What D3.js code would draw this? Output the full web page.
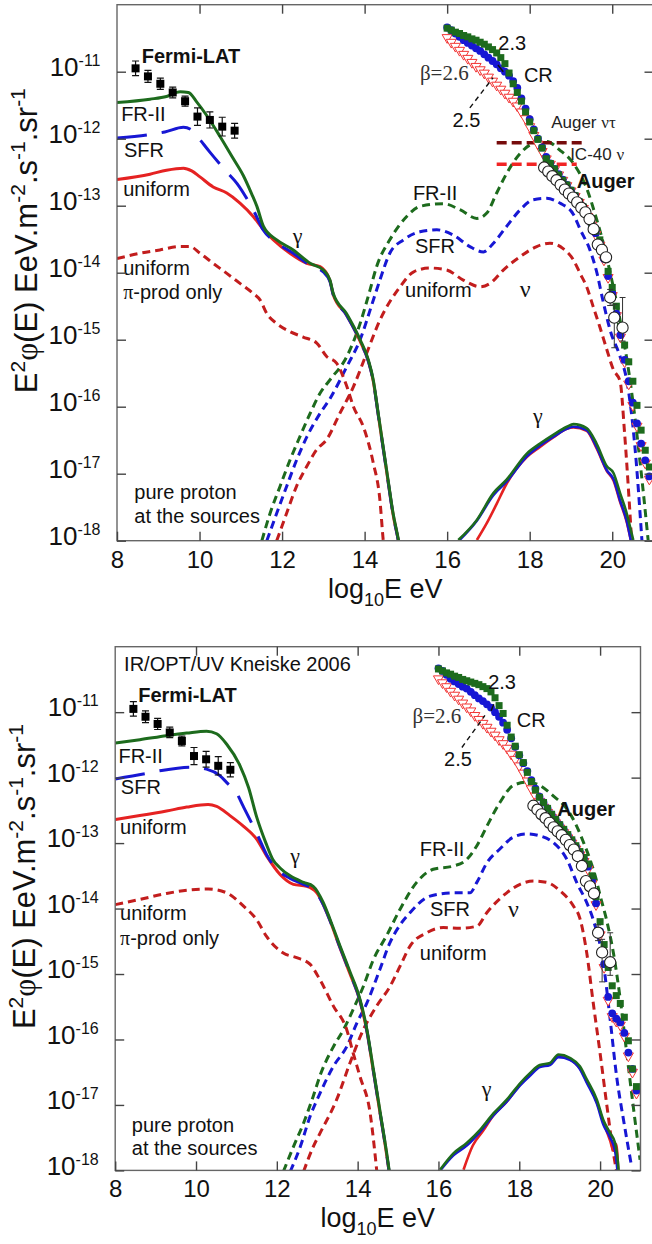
<!DOCTYPE html>
<html>
<head>
<meta charset="utf-8">
<script src="https://cdn.jsdelivr.net/npm/d3@7"></script>
<style>
  body { margin: 0; background: #fff; }
  svg { display: block; }
</style>
</head>
<body>
<div id="chart"></div>
<script>
// x = log10(E/eV), y = log10(E^2 phi) in EeV.m-2.s-1.sr-1

// Fermi-LAT points (same in both panels)
const fermiE = [8.45, 8.75, 9.05, 9.35, 9.65, 9.95, 10.25, 10.55, 10.85];
const fermiF = [-10.95, -11.07, -11.18, -11.31, -11.44, -11.67, -11.72, -11.82, -11.88];
const fermiErr = [0.11, 0.09, 0.085, 0.08, 0.075, 0.13, 0.12, 0.14, 0.11];

// Auger spectrum (open circles)
const augerE = [18.35, 18.45, 18.55, 18.65, 18.75, 18.85, 18.95, 19.05, 19.15, 19.25,
                19.35, 19.45, 19.55, 19.65, 19.75, 19.85, 19.95, 20.05, 20.25];
const augerF = [-12.43, -12.49, -12.56, -12.62, -12.69, -12.76, -12.82, -12.88, -12.95, -13.03,
                -13.10, -13.20, -13.35, -13.58, -13.66, -13.77, -14.37, -14.67, -14.82];
const augerErrLo = [0, 0, 0, 0, 0, 0, 0, 0, 0, 0, 0, 0, 0, 0, 0, 0, 0.12, 0.45, 0.2];
const augerErrHi = [0, 0, 0, 0, 0, 0, 0, 0, 0, 0, 0, 0, 0, 0, 0, 0, 0.12, 0.2, 0.45];

// propagated cosmic-ray spectra for beta = 2.3 / 2.5 / 2.6
const crE = [16.0, 16.1, 16.2, 16.3, 16.4, 16.5, 16.6, 16.7, 16.8, 16.9,
             17.0, 17.1, 17.2, 17.3, 17.4, 17.5, 17.6, 17.7, 17.8, 17.9,
             18.0, 18.1, 18.2, 18.3, 18.4, 18.5, 18.6, 18.7, 18.8, 18.9,
             19.0, 19.1, 19.2, 19.3, 19.4, 19.5, 19.6, 19.7, 19.8, 19.9,
             20.0, 20.1, 20.2, 20.3, 20.4, 20.5, 20.6, 20.7, 20.8, 20.9];
const crTop23 = [-10.35, -10.38, -10.41, -10.43, -10.46, -10.48, -10.51, -10.53, -10.56, -10.59,
                 -10.63, -10.67, -10.72, -10.79, -10.88, -11.02, -11.18, -11.31, -11.44, -11.60,
                 -11.75, -11.88, -12.01, -12.14, -12.30, -12.37, -12.45, -12.54, -12.62, -12.69,
                 -12.77, -12.85, -12.94, -13.02, -13.14, -13.26, -13.38, -13.51, -13.74, -13.98,
                 -14.22, -14.50, -14.80, -15.08, -15.33, -15.62, -15.98, -16.35, -16.65, -16.90];
const crTop25 = [-10.34, -10.38, -10.43, -10.48, -10.53, -10.57, -10.61, -10.65, -10.69, -10.74,
                 -10.79, -10.84, -10.89, -10.95, -11.00, -11.06, -11.14, -11.24, -11.40, -11.55,
                 -11.71, -11.86, -12.00, -12.13, -12.27, -12.37, -12.45, -12.53, -12.61, -12.69,
                 -12.77, -12.85, -12.94, -13.03, -13.15, -13.28, -13.41, -13.56, -13.79, -14.05,
                 -14.31, -14.61, -14.93, -15.30, -15.62, -15.94, -16.25, -16.55, -16.80, -17.04];
const crTop26 = [-10.49, -10.56, -10.62, -10.68, -10.74, -10.80, -10.86, -10.92, -10.97, -11.02,
                 -11.08, -11.14, -11.20, -11.26, -11.32, -11.38, -11.44, -11.51, -11.60, -11.70,
                 -11.82, -11.95, -12.08, -12.19, -12.30, -12.38, -12.46, -12.54, -12.62, -12.70,
                 -12.78, -12.86, -12.95, -13.04, -13.16, -13.29, -13.43, -13.59, -13.81, -14.07,
                 -14.34, -14.64, -14.96, -15.33, -15.66, -15.98, -16.29, -16.58, -16.84, -17.08];
const crBot23 = [-10.34, -10.37, -10.40, -10.42, -10.45, -10.47, -10.50, -10.52, -10.54, -10.56,
                 -10.58, -10.61, -10.64, -10.69, -10.78, -10.90, -11.02, -11.20, -11.38, -11.52,
                 -11.65, -11.77, -11.92, -12.06, -12.19, -12.30, -12.38, -12.47, -12.56, -12.64,
                 -12.72, -12.79, -12.87, -12.95, -13.04, -13.13, -13.22, -13.32, -13.50, -13.82,
                 -14.20, -14.55, -14.90, -15.18, -15.33, -15.45, -15.66, -16.02, -16.45, -16.72];
const crBot25 = [-10.33, -10.37, -10.43, -10.49, -10.53, -10.57, -10.61, -10.64, -10.69, -10.74,
                 -10.79, -10.83, -10.88, -10.93, -11.00, -11.07, -11.16, -11.27, -11.40, -11.53,
                 -11.66, -11.78, -11.90, -12.04, -12.17, -12.29, -12.38, -12.47, -12.56, -12.64,
                 -12.72, -12.80, -12.88, -12.96, -13.05, -13.14, -13.24, -13.36, -13.58, -13.92,
                 -14.35, -14.85, -15.35, -15.60, -15.68, -15.74, -15.90, -16.20, -16.45, -16.78];
const crBot26 = [-10.49, -10.55, -10.61, -10.68, -10.74, -10.80, -10.86, -10.92, -10.98, -11.05,
                 -11.11, -11.17, -11.23, -11.29, -11.35, -11.42, -11.48, -11.55, -11.64, -11.72,
                 -11.82, -11.93, -12.05, -12.17, -12.28, -12.36, -12.45, -12.53, -12.61, -12.69,
                 -12.77, -12.84, -12.92, -13.00, -13.09, -13.18, -13.28, -13.40, -13.62, -13.94,
                 -14.40, -14.90, -15.40, -15.65, -15.72, -15.78, -15.95, -16.25, -16.50, -16.82];

// ---- top panel curves: [log10 E, log10 flux]
const gamFR2Top = [[8.0,-11.46],[8.8,-11.41],[9.2,-11.37],[9.53,-11.30],[9.73,-11.31],[9.93,-11.45],[10.17,-11.65],
  [10.50,-11.97],[10.82,-12.30],[11.06,-12.55],[11.26,-12.82],[11.39,-13.01],[11.55,-13.31],[11.87,-13.51],
  [12.27,-13.66],[12.68,-13.86],[13.0,-13.96],[13.16,-14.11],[13.24,-14.31],[13.56,-14.61],[13.89,-15.0],
  [14.09,-15.30],[14.21,-15.60],[14.33,-16.10],[14.45,-16.60],[14.57,-17.10],[14.69,-17.59],[14.82,-17.99],[14.9,-18.3]];
const gamSFRTop = [[8.0,-11.99],[8.76,-11.94],[9.16,-11.90],[9.61,-11.83],[9.81,-11.87],[9.91,-11.94],[10.25,-12.20],
  [10.62,-12.47],[10.91,-12.67],[11.17,-12.92],[11.34,-13.11],[11.54,-13.36],[11.87,-13.55],[12.27,-13.71],
  [12.68,-13.89],[13.0,-13.99],[13.16,-14.13],[13.24,-14.33],[13.56,-14.63],[13.89,-15.02],[14.09,-15.32],
  [14.21,-15.62],[14.33,-16.12],[14.45,-16.62],[14.57,-17.12],[14.69,-17.61],[14.82,-18.01],[14.9,-18.3]];
const gamUniTop = [[8.0,-12.61],[8.8,-12.53],[9.2,-12.47],[9.61,-12.44],[9.81,-12.48],[10.01,-12.57],[10.33,-12.72],
  [10.66,-12.81],[10.98,-12.96],[11.30,-13.16],[11.55,-13.36],[11.79,-13.51],[12.19,-13.71],[12.60,-13.86],
  [12.92,-13.91],[13.16,-14.12],[13.24,-14.33],[13.56,-14.63],[13.89,-15.02],[14.09,-15.32],[14.21,-15.62],
  [14.33,-16.12],[14.45,-16.62],[14.57,-17.12],[14.69,-17.61],[14.82,-18.01],[14.9,-18.3]];
const piUniTop = [[8.0,-13.79],[8.56,-13.71],[9.04,-13.66],[9.53,-13.61],[9.77,-13.61],[10.01,-13.71],[10.33,-13.86],
  [10.66,-14.01],[10.98,-14.16],[11.30,-14.31],[11.47,-14.41],[11.63,-14.61],[11.87,-14.76],[12.19,-14.88],
  [12.51,-14.96],[12.84,-15.05],[13.08,-15.25],[13.32,-15.35],[13.57,-15.70],[13.73,-16.00],[13.97,-16.30],
  [14.21,-16.84],[14.37,-17.39],[14.45,-17.99],[14.5,-18.3]];
const nuFR2Top = [[11.51,-18.0],[11.71,-17.59],[11.95,-17.19],[12.19,-16.80],[12.43,-16.45],[12.68,-16.10],
  [12.92,-15.80],[13.16,-15.60],[13.57,-15.25],[13.89,-14.76],[14.13,-14.26],[14.29,-13.91],[14.61,-13.51],
  [15.02,-13.16],[15.34,-13.01],[15.91,-12.97],[16.31,-13.06],[16.72,-13.19],[16.96,-13.11],[17.20,-12.81],
  [17.44,-12.52],[17.77,-12.22],[18.09,-12.07],[18.41,-12.04],[18.73,-12.17],[19.06,-12.37],[19.38,-12.74],
  [19.62,-13.20],[19.78,-13.55],[19.95,-14.0],[20.19,-14.71],[20.43,-15.60],[20.67,-16.80],[20.87,-17.99]];
const nuSFRTop = [[11.63,-18.0],[11.87,-17.59],[12.11,-17.19],[12.35,-16.80],[12.60,-16.45],[12.92,-16.10],
  [13.16,-15.88],[13.57,-15.40],[13.89,-15.0],[14.21,-14.41],[14.37,-14.11],[14.61,-13.71],[14.94,-13.51],
  [15.34,-13.39],[15.75,-13.36],[16.15,-13.44],[16.55,-13.61],[16.88,-13.69],[17.12,-13.56],[17.44,-13.31],
  [17.77,-13.06],[18.09,-12.91],[18.41,-12.89],[18.73,-12.96],[19.06,-13.13],[19.22,-13.35],[19.46,-13.66],
  [19.62,-13.98],[19.78,-14.43],[19.95,-14.86],[20.19,-15.25],[20.35,-15.60],[20.55,-16.60],[20.72,-18.0]];
const nuUniTop = [[11.87,-18.0],[12.11,-17.59],[12.35,-17.19],[12.60,-16.89],[12.84,-16.64],[13.08,-16.49],
  [13.40,-16.10],[13.73,-15.70],[14.05,-15.20],[14.37,-14.71],[14.86,-14.21],[15.18,-13.99],[15.58,-13.93],
  [15.99,-13.96],[16.39,-14.11],[16.80,-14.21],[17.04,-14.16],[17.36,-13.96],[17.77,-13.76],[18.17,-13.61],
  [18.49,-13.56],[18.81,-13.64],[19.06,-13.81],[19.22,-14.01],[19.38,-14.21],[19.54,-14.51],[19.70,-14.81],
  [19.87,-15.15],[20.03,-15.45],[20.19,-15.62],[20.30,-16.40],[20.40,-17.30],[20.47,-18.0]];
const gamHiFR2Top = [[16.27,-17.99],[16.72,-17.69],[17.12,-17.29],[17.44,-17.09],[17.93,-16.70],[18.25,-16.55],
  [18.57,-16.42],[18.90,-16.30],[19.06,-16.26],[19.38,-16.32],[19.62,-16.55],[19.87,-16.89],[20.03,-16.99],
  [20.19,-17.29],[20.35,-17.59],[20.47,-17.89],[20.51,-17.99]];
const gamHiSFRTop = [[16.30,-17.99],[16.72,-17.70],[17.12,-17.32],[17.44,-17.12],[17.93,-16.74],[18.25,-16.58],
  [18.57,-16.45],[18.90,-16.33],[19.06,-16.30],[19.38,-16.35],[19.62,-16.60],[19.87,-16.95],[20.03,-17.08],
  [20.19,-17.40],[20.35,-17.70],[20.45,-17.99]];
const gamHiUniTop = [[16.72,-17.99],[16.95,-17.75],[17.20,-17.45],[17.44,-17.15],[17.93,-16.75],[18.25,-16.60],
  [18.57,-16.46],[18.90,-16.33],[19.06,-16.31],[19.38,-16.36],[19.62,-16.62],[19.87,-16.96],[20.03,-17.10],
  [20.19,-17.42],[20.35,-17.72],[20.45,-17.99]];

// ---- bottom panel curves (Kneiske 2006 background)
const gamFR2Bot = [[8.0,-11.47],[8.61,-11.42],[9.27,-11.36],[9.77,-11.32],[10.26,-11.29],[10.51,-11.33],[10.76,-11.49],
  [11.09,-11.82],[11.30,-12.15],[11.50,-12.60],[11.73,-13.00],[11.90,-13.25],[12.08,-13.38],[12.33,-13.50],
  [12.66,-13.60],[12.90,-13.66],[13.15,-13.91],[13.32,-14.17],[13.55,-14.55],[13.80,-14.95],[14.06,-15.39],
  [14.23,-15.85],[14.39,-16.46],[14.55,-17.08],[14.72,-17.74],[14.78,-18.0],[14.85,-18.3]];
const gamSFRBot = [[8.0,-12.02],[8.74,-11.94],[9.15,-11.89],[9.89,-11.84],[10.26,-11.87],[10.59,-11.97],[10.80,-12.10],
  [10.97,-12.20],[11.17,-12.44],[11.54,-12.90],[11.75,-13.18],[12.0,-13.40],[12.33,-13.54],[12.66,-13.63],
  [12.90,-13.70],[13.15,-13.94],[13.32,-14.19],[13.55,-14.57],[13.80,-14.97],[14.06,-15.41],[14.23,-15.87],
  [14.39,-16.48],[14.55,-17.10],[14.72,-17.76],[14.78,-18.02],[14.85,-18.3]];
const gamUniBot = [[8.0,-12.64],[8.61,-12.58],[9.27,-12.51],[9.77,-12.45],[10.30,-12.41],[10.51,-12.44],[10.84,-12.58],
  [11.17,-12.74],[11.50,-12.94],[11.75,-13.20],[12.08,-13.48],[12.41,-13.63],[12.74,-13.66],[12.99,-13.76],
  [13.32,-14.19],[13.55,-14.58],[13.80,-14.98],[14.06,-15.42],[14.23,-15.88],[14.39,-16.49],[14.55,-17.11],
  [14.72,-17.77],[14.78,-18.03],[14.85,-18.3]];
const piUniBot = [[8.0,-13.94],[8.61,-13.86],[9.27,-13.77],[9.77,-13.72],[10.30,-13.70],[10.76,-13.76],[11.17,-13.96],
  [11.50,-14.17],[11.75,-14.43],[12.16,-14.68],[12.49,-14.75],[12.82,-14.85],[13.07,-15.09],[13.40,-15.49],
  [13.73,-15.85],[13.89,-16.21],[14.06,-16.57],[14.31,-17.13],[14.47,-17.99],[14.52,-18.3]];
const nuFR2Bot = [[12.16,-18.02],[12.41,-17.64],[12.66,-17.28],[12.90,-16.87],[13.07,-16.55],[13.40,-16.11],
  [13.65,-15.85],[13.89,-15.54],[14.14,-15.19],[14.39,-14.78],[14.72,-14.41],[15.05,-14.01],[15.46,-13.60],
  [15.87,-13.40],[16.37,-13.35],[16.70,-13.25],[16.95,-13.04],[17.20,-12.74],[17.52,-12.38],[17.85,-12.12],
  [18.19,-12.07],[18.51,-12.12],[18.84,-12.28],[19.18,-12.48],[19.42,-12.74],[19.59,-12.99],[19.75,-13.25],
  [19.88,-13.50],[20.0,-13.80],[20.17,-14.20],[20.33,-14.68],[20.50,-15.39],[20.66,-16.21],[20.82,-17.02],[20.99,-17.84]];
const nuSFRBot = [[12.33,-18.02],[12.58,-17.64],[12.82,-17.18],[13.07,-16.82],[13.40,-16.41],[13.73,-16.11],
  [13.98,-15.75],[14.23,-15.44],[14.55,-14.93],[14.80,-14.52],[15.05,-14.25],[15.30,-14.06],[15.79,-13.81],
  [16.37,-13.76],[16.78,-13.76],[16.95,-13.60],[17.20,-13.30],[17.52,-13.09],[17.85,-12.91],[18.19,-12.86],
  [18.51,-12.89],[18.84,-12.99],[19.18,-13.25],[19.42,-13.60],[19.67,-13.91],[19.83,-14.17],[20.08,-14.83],
  [20.25,-15.70],[20.41,-16.57],[20.58,-17.23],[20.78,-17.94]];
const nuUniBot = [[12.66,-18.02],[12.90,-17.64],[13.07,-17.43],[13.48,-16.92],[13.81,-16.36],[14.14,-15.85],
  [14.47,-15.49],[14.80,-15.19],[15.05,-14.88],[15.30,-14.57],[15.71,-14.37],[16.12,-14.29],[16.53,-14.30],
  [16.95,-14.27],[17.20,-14.06],[17.69,-13.76],[18.02,-13.63],[18.35,-13.58],[18.68,-13.60],[19.01,-13.73],
  [19.34,-13.96],[19.50,-14.15],[19.67,-14.68],[19.83,-15.44],[20.0,-16.21],[20.17,-17.02],[20.33,-17.74],[20.41,-18.02]];
const gamHiFR2Bot = [[16.04,-17.99],[16.37,-17.74],[16.70,-17.58],[17.03,-17.38],[17.36,-17.13],[17.69,-16.92],
  [18.02,-16.67],[18.27,-16.51],[18.51,-16.39],[18.76,-16.36],[18.97,-16.23],[19.25,-16.28],[19.50,-16.41],
  [19.67,-16.61],[19.92,-16.92],[20.08,-17.23],[20.25,-17.43],[20.37,-17.58],[20.45,-17.94],[20.47,-18.1]];
const gamHiSFRBot = [[16.06,-17.99],[16.37,-17.77],[16.70,-17.62],[17.03,-17.41],[17.36,-17.16],[17.69,-16.95],
  [18.02,-16.70],[18.27,-16.55],[18.51,-16.42],[18.76,-16.39],[18.97,-16.27],[19.25,-16.31],[19.50,-16.45],
  [19.67,-16.66],[19.92,-16.98],[20.08,-17.30],[20.25,-17.50],[20.37,-17.70],[20.43,-18.0]];
const gamHiUniBot = [[16.62,-17.99],[16.85,-17.62],[17.10,-17.40],[17.36,-17.16],[17.69,-16.95],[18.02,-16.69],
  [18.27,-16.53],[18.51,-16.40],[18.76,-16.38],[18.97,-16.25],[19.25,-16.30],[19.50,-16.44],[19.67,-16.64],
  [19.92,-16.96],[20.08,-17.26],[20.25,-17.55],[20.33,-17.70],[20.40,-17.60],[20.45,-18.0]];

// neutrino limits (top panel): [E from, E to, level]
const augerNuTau = [17.20, 19.38, -12.06];
const ic40Nu = [17.20, 19.14, -12.38];

// axis ticks
const xTicks = [8, 10, 12, 14, 16, 18, 20];
const yDecades = [-18, -17, -16, -15, -14, -13, -12, -11];

const SANS = '"Liberation Sans", Arial, Helvetica, sans-serif';
const SERIF = '"Liberation Serif", "Times New Roman", serif';
const COL = {
  green: '#1d6b1d', blue: '#1717d4', red: '#e52222', redDash: '#c21d1d',
  maroon: '#760b0b', ic40: '#f12424', tri: '#f23434', frame: '#666'
};

const svg = d3.select('#chart').append('svg').attr('width', 652).attr('height', 1244);
const defs = svg.append('defs');

function addText(g, x, y, segs, o = {}) {
  const t = g.append('text').attr('x', x).attr('y', y)
    .attr('font-family', SANS).attr('font-size', o.size || 20)
    .attr('fill', o.color || '#111');
  if (o.bold) t.attr('font-weight', 'bold');
  if (o.anchor) t.attr('text-anchor', o.anchor);
  segs.forEach(s => {
    const ts = t.append('tspan').text(s.t);
    if (s.serif) ts.attr('font-family', SERIF);
    if (s.size) ts.attr('font-size', s.size);
    if (s.dy) ts.attr('dy', s.dy);
  });
  return t;
}

const sup = (t, h, sz) => [{ t, size: sz || 16, dy: -(h || 10) }];

function drawPanel(p) {
  const x = d3.scaleLinear().domain([8, 21]).range([p.left, p.right]);
  const y = d3.scaleLog().domain([1e-18, 1e-10]).range([p.bottom, p.top]);
  const px = e => x(e);
  const py = l => y(Math.pow(10, l));

  const g = svg.append('g');
  const clipId = 'clip-' + p.key;
  defs.append('clipPath').attr('id', clipId).append('rect')
    .attr('x', p.left).attr('y', p.top)
    .attr('width', p.right - p.left).attr('height', p.bottom - p.top);
  const plot = g.append('g').attr('clip-path', `url(#${clipId})`);

  const line = d3.line().x(d => px(d[0])).y(d => py(d[1])).curve(d3.curveMonotoneX);
  const curve = (data, color, dash, w) => plot.append('path').datum(data)
    .attr('d', line).attr('fill', 'none').attr('stroke', color)
    .attr('stroke-width', w || 3).attr('stroke-dasharray', dash || null)
    .attr('stroke-linejoin', 'round');

  // neutrinos + pion-only gammas (short dashes)
  curve(p.nuUni, COL.redDash, '8,5');
  curve(p.nuSFR, COL.blue, '8,5');
  curve(p.nuFR2, COL.green, '8,5');
  curve(p.piUni, COL.redDash, '8,5');

  // gammas
  curve(p.gamUni, COL.red);
  curve(p.gamSFR, COL.blue, '30,15');
  curve(p.gamFR2, COL.green);
  curve(p.gamHiUni, COL.red, null, 2.6);
  curve(p.gamHiSFR, COL.blue, null, 2.6);
  curve(p.gamHiFR2, COL.green, null, 2.6);

  // neutrino limits
  (p.limits || []).forEach(l => {
    plot.append('line')
      .attr('x1', px(l.v[0])).attr('x2', px(l.v[1]))
      .attr('y1', py(l.v[2])).attr('y2', py(l.v[2]))
      .attr('stroke', l.color).attr('stroke-width', 3.5).attr('stroke-dasharray', '10,5');
  });

  // CR spectra
  const tri = d3.symbol().type(d3.symbolTriangle).size(44)();
  plot.append('g').selectAll('path').data(d3.zip(crE, p.cr26)).join('path')
    .attr('d', tri)
    .attr('transform', d => `translate(${px(d[0])},${py(d[1])}) rotate(180)`)
    .attr('fill', '#fff').attr('stroke', COL.tri).attr('stroke-width', 1);
  plot.append('g').selectAll('circle').data(d3.zip(crE, p.cr25)).join('circle')
    .attr('cx', d => px(d[0])).attr('cy', d => py(d[1])).attr('r', 3.9)
    .attr('fill', COL.blue);
  plot.append('g').selectAll('rect').data(d3.zip(crE, p.cr23)).join('rect')
    .attr('x', d => px(d[0]) - 3.5).attr('y', d => py(d[1]) - 3.5)
    .attr('width', 7).attr('height', 7).attr('fill', COL.green);

  // Auger data
  const aug = d3.zip(augerE, augerF, augerErrLo, augerErrHi);
  const augBars = plot.append('g').attr('stroke', '#333').attr('stroke-width', 1);
  aug.filter(d => d[2] > 0 || d[3] > 0).forEach(d => {
    const cx = px(d[0]), y0 = py(d[1] - d[2]), y1 = py(d[1] + d[3]);
    augBars.append('line').attr('x1', cx).attr('x2', cx).attr('y1', y0).attr('y2', y1);
    augBars.append('line').attr('x1', cx - 3).attr('x2', cx + 3).attr('y1', y0).attr('y2', y0);
    augBars.append('line').attr('x1', cx - 3).attr('x2', cx + 3).attr('y1', y1).attr('y2', y1);
  });
  plot.append('g').selectAll('circle').data(aug).join('circle')
    .attr('cx', d => px(d[0])).attr('cy', d => py(d[1])).attr('r', 5.6)
    .attr('fill', '#fff').attr('stroke', '#222').attr('stroke-width', 1.1);

  // Fermi-LAT
  const fer = d3.zip(fermiE, fermiF, fermiErr);
  const ferBars = plot.append('g').attr('stroke', '#111').attr('stroke-width', 1.2);
  fer.forEach(d => {
    const cx = px(d[0]), y0 = py(d[1] - d[2]), y1 = py(d[1] + d[2]);
    ferBars.append('line').attr('x1', cx).attr('x2', cx).attr('y1', y0).attr('y2', y1);
    ferBars.append('line').attr('x1', cx - 3.5).attr('x2', cx + 3.5).attr('y1', y0).attr('y2', y0);
    ferBars.append('line').attr('x1', cx - 3.5).attr('x2', cx + 3.5).attr('y1', y1).attr('y2', y1);
  });
  plot.append('g').selectAll('rect').data(fer).join('rect')
    .attr('x', d => px(d[0]) - 4).attr('y', d => py(d[1]) - 4)
    .attr('width', 8).attr('height', 8).attr('fill', '#000');

  // pointer marks near CR labels
  p.pointers.forEach(q => {
    g.append('line')
      .attr('x1', px(q.a[0])).attr('y1', py(q.a[1]))
      .attr('x2', px(q.b[0])).attr('y2', py(q.b[1]))
      .attr('stroke', '#111').attr('stroke-width', 1.4)
      .attr('stroke-dasharray', q.dash || null);
  });

  // labels
  p.labels.forEach(l => addText(g, px(l.x), py(l.y), l.segs, l));

  // frame
  g.append('rect').attr('x', p.left).attr('y', p.top)
    .attr('width', p.right - p.left).attr('height', p.bottom - p.top)
    .attr('fill', 'none').attr('stroke', COL.frame).attr('stroke-width', 1.4);

  // axes
  const styleAxis = sel => {
    sel.select('.domain').remove();
    sel.selectAll('.tick line').attr('stroke', '#444').attr('stroke-width', 1.4);
  };
  g.append('g').attr('transform', `translate(0,${p.bottom})`)
    .call(d3.axisBottom(x).tickValues(xTicks).tickSizeInner(-9).tickSizeOuter(0).tickPadding(10))
    .call(styleAxis)
    .call(s => s.selectAll('.tick text').attr('font-family', SANS).attr('font-size', 24).attr('fill', '#111'));
  g.append('g').attr('transform', `translate(0,${p.top})`)
    .call(d3.axisTop(x).tickValues(xTicks.slice(1)).tickSizeInner(-9).tickSizeOuter(0).tickFormat(''))
    .call(styleAxis);
  const yVals = yDecades.map(e => Math.pow(10, e));
  g.append('g').attr('transform', `translate(${p.left},0)`)
    .call(d3.axisLeft(y).tickValues(yVals).tickSizeInner(-9).tickSizeOuter(0).tickPadding(16.5).tickFormat(''))
    .call(styleAxis)
    .call(s => s.selectAll('.tick text').each(function (d) {
      const t = d3.select(this).attr('dy', '0.14em')
        .attr('font-family', SANS).attr('font-size', 26).attr('fill', '#111');
      t.append('tspan').text('10');
      t.append('tspan').attr('font-size', 16).attr('dy', -10).text(String(Math.round(Math.log10(d))));
    }));
  g.append('g').attr('transform', `translate(${p.right},0)`)
    .call(d3.axisRight(y).tickValues(yVals).tickSizeInner(-9).tickSizeOuter(0).tickFormat(''))
    .call(styleAxis);

  // axis titles
  addText(g, (p.left + p.right) / 2, p.bottom + 57,
    [{ t: 'log' }, { t: '10', size: 18, dy: 8 }, { t: 'E eV', dy: -8 }],
    { size: 27, anchor: 'middle' });
  const yt = addText(g, 0, 0,
    [{ t: 'E' }, ...sup('2', 12, 21), { t: 'φ', serif: true, dy: 12 }, { t: '(E) EeV.m' },
     ...sup('-2', 12, 21), { t: '.s', dy: 12 }, ...sup('-1', 12, 21), { t: '.sr', dy: 12 },
     ...sup('-1', 12, 21)],
    { size: 31, anchor: 'middle' });
  yt.attr('transform', `translate(${p.left - 80},${(p.top + p.bottom) / 2 - 32}) rotate(-90)`);
}

const L = (x, y, segs, extra) => Object.assign({ x, y, segs }, extra || {});
const s = t => [{ t }];
const greek = t => [{ t, serif: true }];

drawPanel({
  key: 'top', left: 117, right: 653.5, top: 4.7, bottom: 540.7,
  gamFR2: gamFR2Top, gamSFR: gamSFRTop, gamUni: gamUniTop, piUni: piUniTop,
  nuFR2: nuFR2Top, nuSFR: nuSFRTop, nuUni: nuUniTop,
  gamHiFR2: gamHiFR2Top, gamHiSFR: gamHiSFRTop, gamHiUni: gamHiUniTop,
  cr23: crTop23, cr25: crTop25, cr26: crTop26,
  limits: [{ v: augerNuTau, color: COL.maroon }, { v: ic40Nu, color: COL.ic40 }],
  pointers: [
    { a: [16.55, -11.54], b: [17.11, -11.09], dash: '5,4' },
    { a: [17.23, -10.90], b: [17.36, -11.00] }
  ],
  labels: [
    L(8.60, -10.87, s('Fermi-LAT'), { bold: true }),
    L(8.10, -11.74, s('FR-II')),
    L(8.17, -12.27, s('SFR')),
    L(8.15, -12.86, s('uniform')),
    L(12.26, -13.56, greek('γ'), { size: 22 }),
    L(8.15, -14.04, s('uniform')),
    L(8.15, -14.39, [{ t: 'π', serif: true }, { t: '-prod only' }]),
    L(8.42, -17.38, s('pure proton')),
    L(8.42, -17.73, s('at the sources')),
    L(15.17, -12.92, s('FR-II')),
    L(15.22, -13.71, s('SFR')),
    L(14.98, -14.36, s('uniform')),
    L(17.76, -14.37, greek('ν'), { size: 24 }),
    L(18.08, -16.25, greek('γ'), { size: 22 }),
    L(17.24, -10.68, s('2.3')),
    L(17.86, -11.15, s('CR')),
    L(15.34, -11.12, greek('β=2.6'), { size: 21, color: '#333' }),
    L(16.13, -11.82, s('2.5')),
    L(18.52, -11.84, [{ t: 'Auger ' }, { t: 'ντ', serif: true }], { size: 17, color: '#222' }),
    L(18.98, -12.32, [{ t: 'IC-40 ' }, { t: 'ν', serif: true }], { size: 17, color: '#222' }),
    L(19.14, -12.74, s('Auger'), { bold: true })
  ]
});

drawPanel({
  key: 'bot', left: 115.2, right: 640.5, top: 646.7, bottom: 1170.4,
  gamFR2: gamFR2Bot, gamSFR: gamSFRBot, gamUni: gamUniBot, piUni: piUniBot,
  nuFR2: nuFR2Bot, nuSFR: nuSFRBot, nuUni: nuUniBot,
  gamHiFR2: gamHiFR2Bot, gamHiSFR: gamHiSFRBot, gamHiUni: gamHiUniBot,
  cr23: crBot23, cr25: crBot25, cr26: crBot26,
  limits: [],
  pointers: [
    { a: [16.58, -11.54], b: [17.15, -11.05], dash: '5,4' },
    { a: [17.30, -10.98], b: [17.37, -10.88] }
  ],
  labels: [
    L(8.22, -10.37, s('IR/OPT/UV Kneiske 2006')),
    L(8.57, -10.84, s('Fermi-LAT'), { bold: true }),
    L(8.08, -11.77, s('FR-II')),
    L(8.14, -12.25, s('SFR')),
    L(8.12, -12.86, s('uniform')),
    L(12.33, -13.31, greek('γ'), { size: 22 }),
    L(8.12, -14.17, s('uniform')),
    L(8.12, -14.55, [{ t: 'π', serif: true }, { t: '-prod only' }]),
    L(8.41, -17.41, s('pure proton')),
    L(8.41, -17.77, s('at the sources')),
    L(15.54, -13.20, s('FR-II')),
    L(15.79, -14.11, s('SFR')),
    L(17.72, -14.13, greek('ν'), { size: 24 }),
    L(15.54, -14.78, s('uniform')),
    L(17.07, -16.86, greek('γ'), { size: 22 }),
    L(17.23, -10.64, s('2.3')),
    L(17.94, -11.22, s('CR')),
    L(15.36, -11.16, greek('β=2.6'), { size: 21, color: '#333' }),
    L(16.14, -11.82, s('2.5')),
    L(18.94, -12.59, s('Auger'), { bold: true })
  ]
});
</script>
</body>
</html>
